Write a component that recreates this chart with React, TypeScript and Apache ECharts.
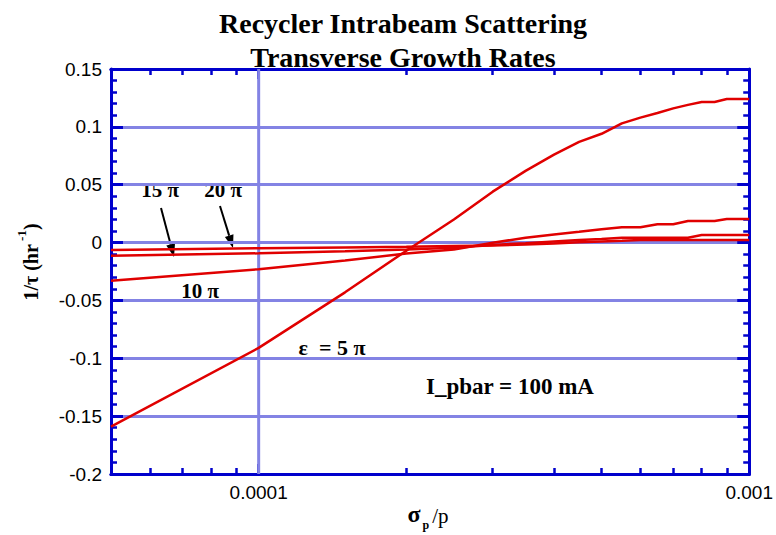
import React, { useEffect, useRef } from 'react';
import * as echarts from 'echarts';

// sigma_p / p sample points
const X_VALUES = [5e-5, 1e-4, 1.5e-4, 2e-4, 2.5e-4, 3e-4, 3.5e-4, 4e-4, 4.5e-4, 5e-4, 5.5e-4, 6e-4, 6.5e-4, 7e-4, 7.5e-4, 8e-4, 8.5e-4, 9e-4, 9.5e-4, 1e-3];
// 1/tau (hr^-1) for each emittance
const EPS_5PI = [-0.159, -0.091, -0.043, -0.007, 0.020, 0.044, 0.062, 0.076, 0.087, 0.094, 0.103, 0.108, 0.112, 0.116, 0.119, 0.1215, 0.1215, 0.124, 0.124, 0.124];
const EPS_10PI = [-0.033, -0.023, -0.0155, -0.0095, -0.006, -0.0002, 0.0042, 0.007, 0.0094, 0.0116, 0.0132, 0.0132, 0.0158, 0.0158, 0.0187, 0.0187, 0.0187, 0.0204, 0.0204, 0.0204];
const EPS_15PI = [-0.0113, -0.0093, -0.0075, -0.006, -0.0045, -0.002, -0.0005, 0.001, 0.0022, 0.003, 0.0042, 0.0042, 0.0042, 0.0042, 0.0042, 0.0066, 0.0066, 0.0066, 0.0066, 0.0066];
const EPS_20PI = [-0.0064, -0.0049, -0.0042, -0.0036, -0.003, -0.0025, -0.0017, -0.0008, 0.0002, 0.001, 0.0016, 0.0022, 0.0022, 0.0022, 0.0022, 0.0022, 0.0022, 0.0022, 0.0022, 0.0022];

const X_MIN = 5e-5;
const X_MAX = 1e-3;
const Y_MIN = -0.2;
const Y_MAX = 0.15;
const Y_INTERVAL = 0.05;
const X_MINOR_TICKS = [6e-5, 7e-5, 8e-5, 9e-5, 2e-4, 3e-4, 4e-4, 5e-4, 6e-4, 7e-4, 8e-4, 9e-4];
const X_MAJOR_TICKS = [1e-4, 1e-3];
const X_TICK_LABELS = ['0.0001', '0.001'];
const X_GRID_LINES = [1e-4];

const BLUE = '#0000cc';
const GRID = '#8383e4';
const RED = '#e00000';
const SERIF = 'Liberation Serif';
const SANS = 'Liberation Sans';

export default function App() {
  const ref = useRef<HTMLDivElement>(null);
  useEffect(() => {
    document.body.style.margin = '0';
    if (!ref.current) return;
    const chart = echarts.init(ref.current, null, { renderer: 'svg' });

    const tickLabel = (v: number) => {
      const i = X_MAJOR_TICKS.findIndex((t) => Math.abs(Math.log10(t) - Math.log10(v)) < 1e-6);
      return i >= 0 ? X_TICK_LABELS[i] : '';
    };

    const makeX = (position: string, values: number[], length: number, width: number, withLabels: boolean) => ({
      type: 'log',
      logBase: 10,
      min: X_MIN,
      max: X_MAX,
      position,
      axisLine: { show: true, onZero: false, lineStyle: { color: BLUE, width: 3 } },
      axisTick: { show: true, inside: true, length, customValues: values.slice(), lineStyle: { color: BLUE, width } },
      axisLabel: withLabels
        ? { show: true, customValues: X_MAJOR_TICKS.slice(), formatter: tickLabel, fontFamily: SANS, fontSize: 19, color: '#000', margin: 9 }
        : { show: false },
      splitLine: { show: false },
      minorTick: { show: false },
      minorSplitLine: { show: false },
    });

    const makeY = (position: string, withLabels: boolean) => ({
      type: 'value',
      min: Y_MIN,
      max: Y_MAX,
      interval: Y_INTERVAL,
      position,
      axisLine: { show: true, onZero: false, lineStyle: { color: BLUE, width: 3 } },
      axisTick: { show: true, inside: true, length: 12, lineStyle: { color: BLUE, width: 3 } },
      minorTick: { show: true, splitNumber: 5, length: 6, lineStyle: { color: BLUE, width: 2.5 } },
      axisLabel: withLabels ? { show: true, fontFamily: SANS, fontSize: 19, color: '#000', margin: 9 } : { show: false },
      splitLine: withLabels ? { show: true, lineStyle: { color: GRID, width: 3 } } : { show: false },
    });

    const mkSeries = (name: string, ys: number[]) => ({
      type: 'line',
      name,
      xAxisIndex: 0,
      yAxisIndex: 0,
      data: X_VALUES.map((x, i) => [x, ys[i]]),
      symbol: 'none',
      lineStyle: { color: RED, width: 2.5 },
      z: 3,
    });

    const arrow = (x1: number, y1: number, x2: number, y2: number) => {
      const dx = x2 - x1;
      const dy = y2 - y1;
      const len = Math.sqrt(dx * dx + dy * dy);
      const ux = dx / len;
      const uy = dy / len;
      const bx = x2 - 13 * ux;
      const by = y2 - 13 * uy;
      const nx = -uy * 4.5;
      const ny = ux * 4.5;
      return [
        { type: 'line', shape: { x1, y1, x2: bx, y2: by }, style: { stroke: '#000', lineWidth: 2 } },
        { type: 'polygon', shape: { points: [[x2, y2], [bx + nx, by + ny], [bx - nx, by - ny]] }, style: { fill: '#000' } },
      ];
    };

    const annoText = (text: string, x: number, y: number, size = 21) => ({
      type: 'text',
      x,
      y,
      style: { text, fontFamily: SERIF, fontWeight: 'bold', fontSize: size, fill: '#000', textAlign: 'center', textVerticalAlign: 'middle' },
    });

    chart.setOption({
      animation: false,
      title: {
        text: 'Recycler Intrabeam Scattering\nTransverse Growth Rates',
        left: 398,
        top: 1,
        textAlign: 'center',
        textStyle: { fontFamily: SERIF, fontWeight: 'bold', fontSize: 28, lineHeight: 34, color: '#000' },
      },
      grid: { left: 111, right: 25, top: 69, bottom: 61 },
      xAxis: [
        makeX('bottom', X_MAJOR_TICKS, 10, 3, true),
        makeX('top', X_MAJOR_TICKS, 10, 3, false),
        makeX('bottom', X_MINOR_TICKS, 6, 2.5, false),
        makeX('top', X_MINOR_TICKS, 6, 2.5, false),
      ],
      yAxis: [makeY('left', true), makeY('right', false)],
      series: [
        ...X_GRID_LINES.map((v) => ({
          type: 'line',
          xAxisIndex: 0,
          yAxisIndex: 0,
          data: [[v, Y_MIN], [v, Y_MAX]],
          symbol: 'none',
          silent: true,
          lineStyle: { color: GRID, width: 3 },
          z: 1,
        })),
        mkSeries('5π', EPS_5PI),
        mkSeries('10π', EPS_10PI),
        mkSeries('15π', EPS_15PI),
        mkSeries('20π', EPS_20PI),
      ],
      graphic: [
        annoText('15 π', 160, 190),
        annoText('20 π', 223, 190),
        annoText('10 π', 200, 291),
        annoText('ε  = 5 π', 332, 347, 22),
        annoText('I_pbar = 100 mA', 510, 386, 23),
        ...arrow(161, 208, 174, 257),
        ...arrow(220, 206, 233, 248),
        {
          type: 'text',
          x: 28,
          y: 262,
          rotation: Math.PI / 2,
          style: {
            text: '{a|1/τ (hr}{s| -1}{a|)}',
            textAlign: 'center',
            textVerticalAlign: 'middle',
            fill: '#000',
            rich: {
              a: { fontFamily: SERIF, fontWeight: 'bold', fontSize: 20, lineHeight: 26, verticalAlign: 'bottom' },
              s: { fontFamily: SERIF, fontWeight: 'bold', fontSize: 13, lineHeight: 26, verticalAlign: 'top' },
            },
          },
        },
        {
          type: 'text',
          x: 428,
          y: 512,
          style: {
            text: '{a|σ}{s|p}{b|/p}',
            textAlign: 'center',
            textVerticalAlign: 'middle',
            fill: '#000',
            rich: {
              a: { fontFamily: SERIF, fontWeight: 'bold', fontSize: 24, lineHeight: 28, verticalAlign: 'bottom' },
              s: { fontFamily: SERIF, fontWeight: 'bold', fontSize: 12, lineHeight: 28, verticalAlign: 'bottom', padding: [0, 3, -5, 2] },
              b: { fontFamily: SERIF, fontSize: 21, lineHeight: 28, verticalAlign: 'bottom' },
            },
          },
        },
      ],
    });

    return () => chart.dispose();
  }, []);
  return <div ref={ref} style={{ width: 776, height: 535 }} />;
}
